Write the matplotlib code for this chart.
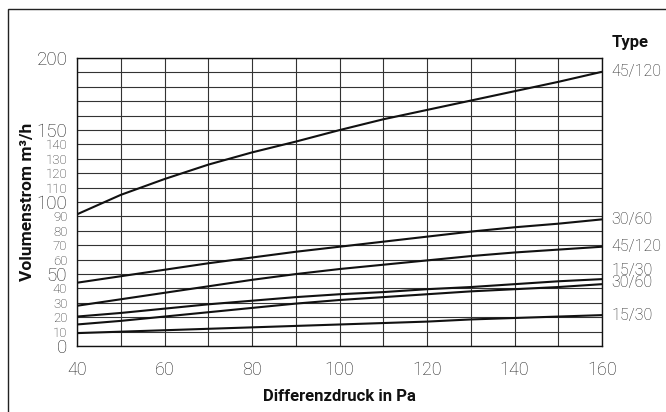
import matplotlib
matplotlib.use("Agg")
import matplotlib.pyplot as plt
from matplotlib.patches import Rectangle

plt.rcParams['font.family'] = ['Roboto', 'DejaVu Sans']

dp = [40, 50, 60, 70, 80, 90, 100, 110, 120, 130, 140, 150, 160]

flow_45_120_hi = [91.5, 105, 116, 126, 134.5, 142, 150, 157.5, 164, 170.5, 177, 183.5, 190.5]
flow_30_60_hi = [44, 48.5, 53, 57.5, 61.5, 65.5, 69, 72.5, 76, 79.5, 82.5, 85, 88]
flow_45_120_lo = [28, 32.5, 37, 41.5, 46, 50, 53.5, 56.5, 59.5, 62.5, 65, 67, 69]
flow_15_30_hi = [20.5, 23, 26, 29, 31.5, 34, 36, 37.5, 39.5, 41, 43, 45, 46.5]
flow_30_60_lo = [15, 17.5, 20.5, 23.5, 26.5, 29.5, 32, 34, 36, 38, 39.5, 41, 43]
flow_15_30_lo = [9, 10, 11, 12, 13, 14, 15, 16, 17, 18.5, 19.5, 20.5, 21.5]

curves = [flow_45_120_hi, flow_30_60_hi, flow_45_120_lo,
          flow_15_30_hi, flow_30_60_lo, flow_15_30_lo]

type_labels = ['45/120', '30/60', '45/120', '15/30', '30/60', '15/30']
label_pos = [190.5, 88, 69, 52.5, 44.5, 21]

x_ticks = [40, 60, 80, 100, 120, 140, 160]
y_ticks = list(range(0, 201, 10))
y_labels = [str(v) if (v <= 150 or v == 200) else '' for v in y_ticks]

fig = plt.figure(figsize=(6.66, 4.12), dpi=100)
ax = fig.add_axes([0.1156, 0.160, 0.7884, 0.699])

for c in curves:
    ax.plot(dp, c, color='#111111', lw=1.5, solid_capstyle='butt', zorder=3)

ax.set_xlim(40, 160)
ax.set_ylim(0, 200)
ax.set_xticks(range(40, 161, 10))
ax.set_xticklabels([str(v) if v in x_ticks else '' for v in range(40, 161, 10)],
                   fontsize=13, fontweight='light', color='#222222')
ax.set_yticks(y_ticks)
ax.set_yticklabels(y_labels, fontweight='light', color='#222222')
for lab, v in zip(ax.get_yticklabels(), y_ticks):
    lab.set_fontsize(13.5 if v % 50 == 0 else 9.5)

ax.tick_params(axis='both', length=0)
ax.tick_params(axis='y', pad=7)
ax.tick_params(axis='x', pad=11)
ax.grid(True, color='#333333', lw=0.8, zorder=1)
for s in ax.spines.values():
    s.set_color('#111111')
    s.set_linewidth(1.0)

ax.set_xlabel('Differenzdruck in Pa', fontsize=12, fontweight='bold', color='#111111', labelpad=7)
ax.set_ylabel('Volumenstrom m³/h', fontsize=12.5, fontweight='bold', color='#111111', labelpad=1)

for lab, y in zip(type_labels, label_pos):
    ax.text(162.2, y, lab, fontsize=11.5, fontweight='light', color='#222222',
            va='center', ha='left', clip_on=False)
ax.text(162.2, 210.5, 'Type', fontsize=12, fontweight='bold', color='#111111',
        va='center', ha='left', clip_on=False)

fig.patches.append(Rectangle((0.012, -0.1), 1.2, 1.078, transform=fig.transFigure,
                             fill=False, edgecolor='#222222', lw=1.0))

fig.savefig('out.png', dpi=100)
